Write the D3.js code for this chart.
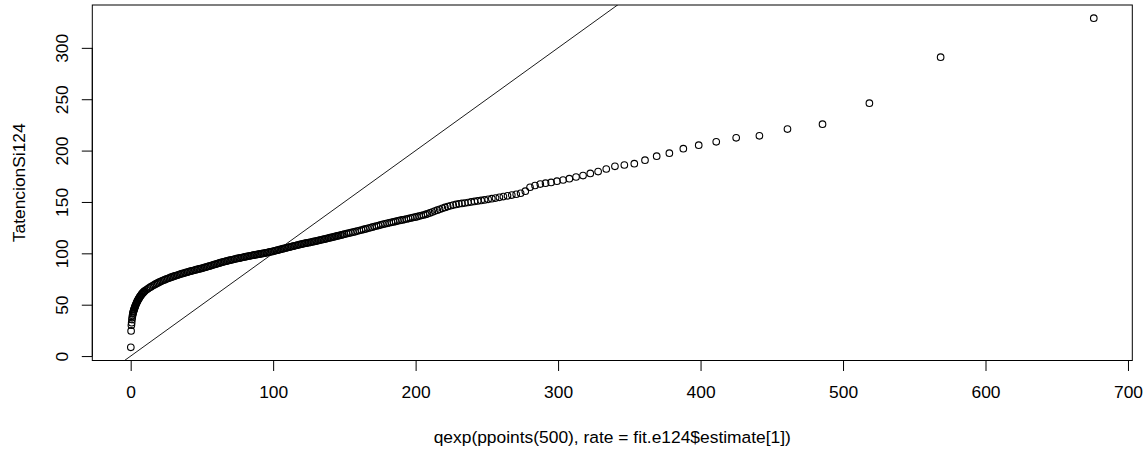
<!DOCTYPE html>
<html>
<head>
<meta charset="utf-8">
<script src="https://cdn.jsdelivr.net/npm/d3@7"></script>
<style>
  html, body { margin: 0; padding: 0; background: #ffffff; }
  svg { display: block; }
  text { font-family: "Liberation Sans", Arial, sans-serif; fill: #000; }
</style>
</head>
<body>
<svg id="chart" width="1147" height="455"></svg>
<script>
// ---- Data ----
// Theoretical exponential quantiles (x) and sorted TatencionSi124 (y)

// lowest part (vertical stack near x = 0)
const xLow = [0.1,0.3,0.5,0.7,0.9,1.1,1.3,1.5,1.7,1.9,2.1,2.3,2.5,2.7,2.9,3.1,3.4,3.7,4.0,4.3,4.6,4.9,5.2,5.5,5.8,6.1,6.4,6.8,7.2,7.6,8.0,8.5,9.0,9.5];
const yLow = [8.5,24.5,30,32.5,35.5,37.5,39.5,41,42.2,43.2,44.2,45.1,45.9,46.7,47.5,48.3,49.4,50.4,51.4,52.3,53.2,54,54.8,55.5,56.2,56.9,57.6,58.4,59.2,60,60.7,61.5,62.2,62.9];

// dense band 10..100
const xMid = [10,11,12,13,14,15,16,17,18,19,20,21,22,23,24,25,26,27,28,29,30,31,32,33,34,35,36,37,38,39,40,41,42,43,44,45,46,47,48,49,50,51,52,53,54,55,56,57,58,59,60,61,62,63,64,65,66,67,68,69,70,71,72,73,74,75,76,77,78,79,80,81,82,83,84,85,86,87,88,89,90,91,92,93,94,95,96,97,98,99,100];
const yMid = [63.5,64.5,65.5,66.4,67.3,68.1,68.9,69.7,70.5,71.2,71.9,72.6,73.2,73.8,74.4,75.0,75.5,76.0,76.5,77.0,77.5,78.0,78.4,78.9,79.3,79.8,80.2,80.6,81.0,81.4,81.8,82.2,82.6,83.0,83.3,83.7,84.1,84.4,84.8,85.1,85.5,85.9,86.3,86.7,87.1,87.5,87.9,88.3,88.8,89.2,89.6,90.0,90.4,90.9,91.3,91.7,92.0,92.4,92.7,93.1,93.4,93.7,94.0,94.4,94.7,95.0,95.3,95.6,95.9,96.2,96.5,96.8,97.1,97.4,97.6,97.9,98.2,98.4,98.7,98.9,99.2,99.5,99.7,100.0,100.2,100.5,100.8,101.1,101.4,101.7,102.0];

// band 101..207
const xHigh = [101,102,103,104,105,106,107,108,109,110,111,112,113,114,115,116,117,118,119,120,121,122,123,124,125,126,127,128,129,130,131,132,133,134,135,136,137,138,139,140,141,142,143,144,145,146,147,148,149,150,151.5,153,154.5,156,157.5,159,160.5,162,163.5,165,166.5,168,169.5,171,172.5,174,175.5,177,178.5,180,181.5,183,184.5,186,187.5,189,190.5,192,193.5,195,196.5,198,199.5,201,202.5,204,205.5,207];
const yHigh = [102.4,102.7,103.1,103.4,103.8,104.1,104.5,104.9,105.2,105.6,105.9,106.3,106.6,107.0,107.3,107.6,108.0,108.3,108.7,109.0,109.3,109.6,109.9,110.2,110.4,110.7,111.0,111.3,111.6,111.9,112.2,112.6,112.9,113.2,113.5,113.8,114.2,114.5,114.9,115.2,115.5,115.9,116.2,116.6,116.9,117.2,117.6,117.9,118.3,118.6,119.1,119.6,120.1,120.6,121.1,121.7,122.2,122.7,123.3,123.8,124.4,124.9,125.5,126.1,126.6,127.1,127.7,128.2,128.7,129.2,129.7,130.2,130.6,131.1,131.6,132.0,132.5,132.9,133.4,133.8,134.3,134.8,135.2,135.7,136.3,136.8,137.3,137.9];

// upper tail: individually visible points
const xTail = [208.3,210.0,211.7,213.4,215.2,216.9,218.8,220.6,222.5,224.4,226.4,228.4,230.4,232.5,234.6,236.8,239.0,241.3,243.6,246.0,248.4,250.9,253.5,256.1,258.8,261.6,264.5,267.5,270.6,273.7,277.0,280.3,283.8,287.5,291.2,295.1,299.2,303.5,307.9,312.6,317.5,322.6,328.1,333.8,339.9,346.5,353.5,361.0,369.2,378.1,387.9,398.7,411.0,425.0,441.3,461.0,485.6,518.5,568.5,676.0];
const yTail = [138.5,139.3,140.2,141.1,142.0,142.9,143.8,144.7,145.5,146.3,147.0,147.6,148.2,148.6,149.0,149.5,150.0,150.5,151.0,151.5,152.0,152.6,153.2,153.8,154.5,155.2,156.0,156.7,157.5,158.5,160.5,164.3,166.0,167.4,168.3,169.0,170.2,171.4,172.7,174.3,175.7,177.8,179.6,182.1,184.7,186.0,187.3,190.7,194.6,197.5,201.9,205.3,208.5,212.4,214.4,220.9,225.7,246.2,290.9,328.9];

const xTicks = [0, 100, 200, 300, 400, 500, 600, 700];
const yTicks = [0, 50, 100, 150, 200, 250, 300];
const xLabel = "qexp(ppoints(500), rate = fit.e124$estimate[1])";
const yLabel = "TatencionSi124";
// reference line y = x (abline(0, 1))
const refIntercept = 0, refSlope = 1;

// ---- Build points ----
const qx = [].concat(xLow, xMid, xHigh, xTail);
const ty = [].concat(yLow, yMid, yHigh, yTail);
const points = qx.map((d, i) => ({ x: d, y: ty[i] }));

// ---- Layout ----
const svg = d3.select("#chart");
const plot = { left: 92.3, right: 1132.3, top: 5, bottom: 360.5 };
const fontSize = 17.4;

function rExtend(ext) {
  const pad = (ext[1] - ext[0]) * 0.04;
  return [ext[0] - pad, ext[1] + pad];
}
const x = d3.scaleLinear().domain(rExtend(d3.extent(qx))).range([plot.left, plot.right]);
const y = d3.scaleLinear().domain(rExtend(d3.extent(ty))).range([plot.bottom, plot.top]);

svg.append("rect").attr("width", 1147).attr("height", 455).attr("fill", "#fff");

// clip for reference line
svg.append("clipPath").attr("id", "clip")
  .append("rect")
  .attr("x", plot.left).attr("y", plot.top)
  .attr("width", plot.right - plot.left).attr("height", plot.bottom - plot.top);

// reference line
const [d0, d1] = x.domain();
svg.append("line")
  .attr("clip-path", "url(#clip)")
  .attr("x1", x(d0)).attr("y1", y(refIntercept + refSlope * d0))
  .attr("x2", x(d1)).attr("y2", y(refIntercept + refSlope * d1))
  .attr("stroke", "#000").attr("stroke-width", 0.9);

// points
svg.append("g")
  .selectAll("circle")
  .data(points)
  .join("circle")
  .attr("cx", d => x(d.x))
  .attr("cy", d => y(d.y))
  .attr("r", 3.3)
  .attr("fill", "none")
  .attr("stroke", "#000")
  .attr("stroke-width", 1.1);

// box
svg.append("rect")
  .attr("x", plot.left).attr("y", plot.top)
  .attr("width", plot.right - plot.left).attr("height", plot.bottom - plot.top)
  .attr("fill", "none").attr("stroke", "#000").attr("stroke-width", 1);

// x axis
const gx = svg.append("g")
  .attr("transform", `translate(0,${plot.bottom})`)
  .call(d3.axisBottom(x).tickValues(xTicks).tickSize(10.5).tickSizeOuter(0).tickFormat(d3.format("d")));
gx.select(".domain")
  .attr("d", `M${x(xTicks[0])},0H${x(xTicks[xTicks.length - 1])}`)
  .attr("stroke", "#000");
gx.selectAll(".tick line").attr("stroke", "#000");
gx.selectAll(".tick text")
  .attr("y", 37.5).attr("dy", null)
  .style("font-size", fontSize + "px")
  .style("font-family", '"Liberation Sans", Arial, sans-serif')
  .attr("fill", "#000");

// y axis
const gy = svg.append("g")
  .attr("transform", `translate(${plot.left},0)`)
  .call(d3.axisLeft(y).tickValues(yTicks).tickSize(10.5).tickSizeOuter(0).tickFormat(d3.format("d")));
gy.select(".domain")
  .attr("d", `M0,${y(yTicks[0])}V${y(yTicks[yTicks.length - 1])}`)
  .attr("stroke", "#000");
gy.selectAll(".tick line").attr("stroke", "#000");
gy.selectAll(".tick text")
  .attr("transform", "rotate(-90)")
  .attr("x", 0).attr("y", -24).attr("dy", null)
  .attr("text-anchor", "middle")
  .style("font-size", fontSize + "px")
  .style("font-family", '"Liberation Sans", Arial, sans-serif')
  .attr("fill", "#000");

// axis titles
svg.append("text")
  .attr("x", (plot.left + plot.right) / 2).attr("y", 443)
  .attr("text-anchor", "middle")
  .style("font-size", fontSize + "px")
  .text(xLabel);

svg.append("text")
  .attr("transform", `translate(25,${(plot.top + plot.bottom) / 2}) rotate(-90)`)
  .attr("text-anchor", "middle")
  .style("font-size", fontSize + "px")
  .text(yLabel);
</script>
</body>
</html>
